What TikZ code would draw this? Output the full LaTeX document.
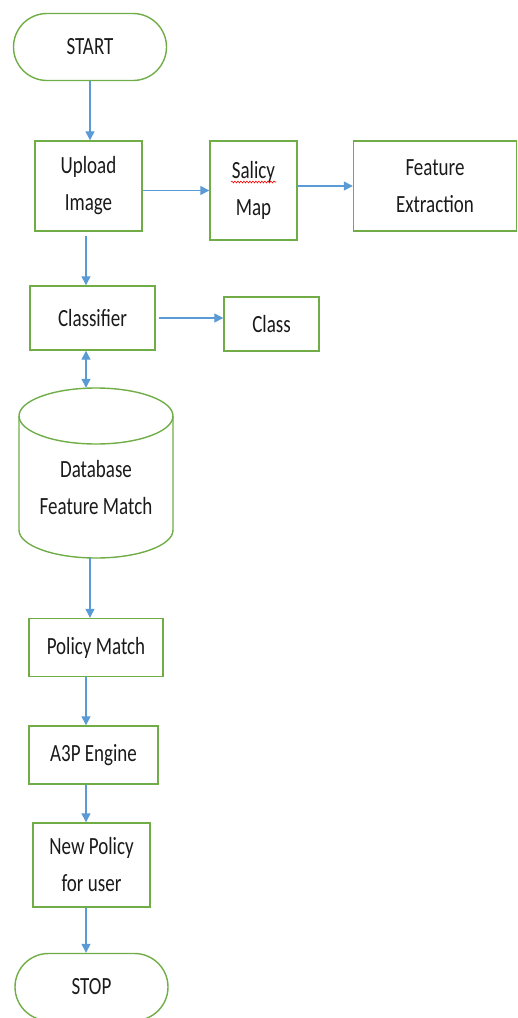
\documentclass[tikz,border=0pt]{standalone}
\usepackage{graphicx}
\usepackage{fontspec}
\setmainfont{Carlito}
\usetikzlibrary{shapes.misc,arrows.meta,decorations.pathmorphing}
\definecolor{boxgreen}{HTML}{70AD47}
\definecolor{linkblue}{HTML}{5B9BD5}
\definecolor{inkgrey}{HTML}{1A1A1A}
\newcommand{\talltext}[1]{\scalebox{1}[1.3]{#1}}

\begin{document}
\begin{tikzpicture}[x=1pt,y=-1pt]
\tikzstyle{every node}+=[inner sep=0pt,align=center,text=inkgrey,font=\fontsize{19}{37}\selectfont]
\tikzstyle{box}=[draw=boxgreen,line width=1.4pt,rectangle]
\tikzstyle{term}=[draw=boxgreen,line width=1.4pt,rounded rectangle]
\tikzstyle{link}=[draw=linkblue,line width=1.3pt,-{Triangle[length=9pt,width=9pt]}]
\useasboundingbox (0,0) rectangle (518,1018);
% terminals and boxes
\node [term,minimum width=153,minimum height=67] (start) at (90,47) {\talltext{START}};
\node [box,minimum width=107,minimum height=90] (upload) at (88.5,186) {\talltext{Upload}\\\talltext{Image}};
\node [box,minimum width=87,minimum height=99] (salicy) at (253.5,190.5) {\talltext{Salicy}\\\talltext{Map}};
\node [box,minimum width=163,minimum height=90] (feature) at (435,186) {\talltext{Feature}\\\talltext{Extraction}};
\node [box,minimum width=125,minimum height=64] (classifier) at (92.5,318) {\talltext{Classifier}};
\node [box,minimum width=95,minimum height=54] (class) at (271.5,324) {\talltext{Class}};
\node [minimum width=154,minimum height=170] (db) at (96,473) {};
\node (dbtext) at (96,488) {\talltext{Database}\\\talltext{Feature Match}};
\node [box,minimum width=134,minimum height=58] (policy) at (96,647.5) {\talltext{Policy Match}};
\node [box,minimum width=129,minimum height=58] (engine) at (93.5,755) {\talltext{A3P Engine}};
\node [box,minimum width=117,minimum height=84] (newpolicy) at (91.5,865) {\talltext{New Policy}\\\talltext{for user}};
\node [term,minimum width=153,minimum height=67] (stop) at (91.5,987) {\talltext{STOP}};
% database cylinder
\draw [boxgreen,line width=1.4pt] (96,416) ellipse (77 and 28);
\draw [boxgreen,line width=1.4pt] (19,416) -- (19,530) arc (180:0:77 and 28) -- (173,416);
% spelling mark
\draw [red,line width=0.6pt,decorate,decoration={snake,amplitude=0.9pt,segment length=3pt}] (231,182) -- (276,182);
% connectors
\draw [link] (start.south) -- (start.south |- upload.north);
\draw [link] (upload.east |- salicy) -- (salicy.west);
\draw [link] (salicy.east |- feature) -- (feature.west);
\draw [link,shorten <=4pt] ([xshift=-2.5]upload.south) -- ([xshift=-2.5]upload.south |- classifier.north);
\draw [link,shorten <=3pt] (classifier.east) -- (classifier.east -| class.west);
\draw [link,{Triangle[length=9pt,width=9pt]}-{Triangle[length=9pt,width=9pt]}] ([xshift=-6.5]classifier.south) -- ([xshift=-6.5]classifier.south |- db.north);
\draw [link] ([xshift=-6]db.south) -- ([xshift=-6]db.south |- policy.north);
\draw [link] ([xshift=-10]policy.south) -- ([xshift=-10]policy.south |- engine.north);
\draw [link] ([xshift=-7.5]engine.south) -- ([xshift=-7.5]engine.south |- newpolicy.north);
\draw [link] ([xshift=-5.5]newpolicy.south) -- ([xshift=-5.5]newpolicy.south |- stop.north);
\end{tikzpicture}
\end{document}
